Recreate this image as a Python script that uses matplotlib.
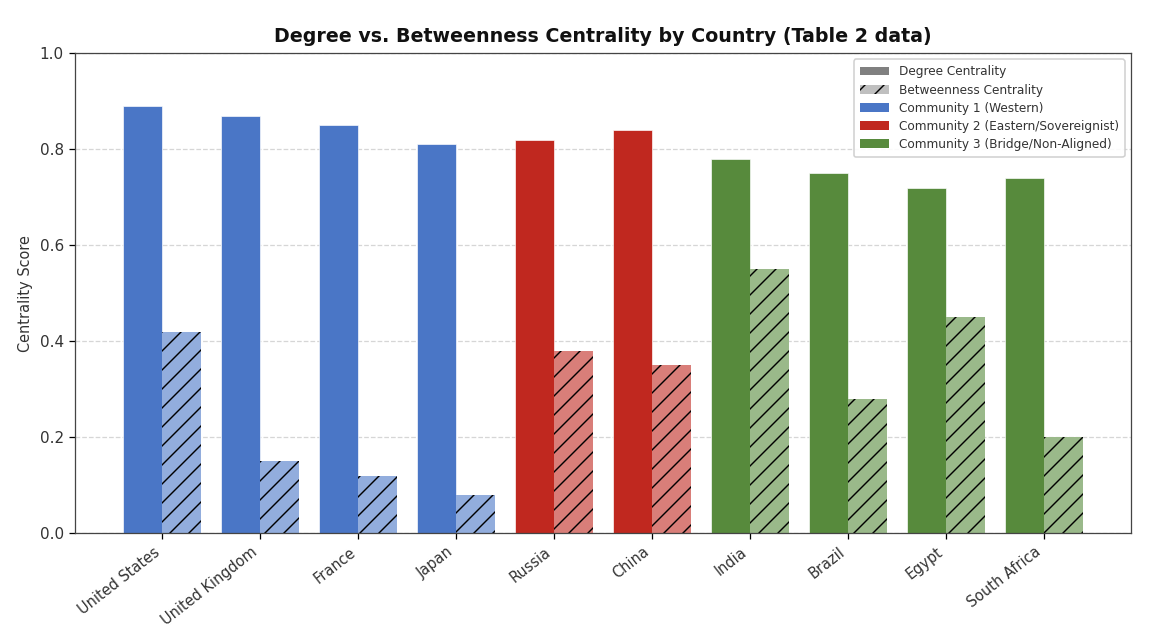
import matplotlib
matplotlib.use("Agg")
import matplotlib.pyplot as plt
from matplotlib.patches import Patch
from matplotlib.colors import to_rgb
import numpy as np

countries = ["United States", "United Kingdom", "France", "Japan", "Russia",
             "China", "India", "Brazil", "Egypt", "South Africa"]
degree = [0.89, 0.87, 0.85, 0.81, 0.82, 0.84, 0.78, 0.75, 0.72, 0.74]
betweenness = [0.42, 0.15, 0.12, 0.08, 0.38, 0.35, 0.55, 0.28, 0.45, 0.20]
community = [1, 1, 1, 1, 2, 2, 3, 3, 3, 3]
community_colors = {1: "#4A76C6", 2: "#C0281F", 3: "#578A3C"}
community_names = {1: "Community 1 (Western)",
                   2: "Community 2 (Eastern/Sovereignist)",
                   3: "Community 3 (Bridge/Non-Aligned)"}


def lighten(c, a=0.6):
    r = np.array(to_rgb(c))
    return tuple(a * r + (1 - a))


DPI = 114
plt.rcParams["hatch.linewidth"] = 0.9
fig = plt.figure(figsize=(1172 / DPI, 634 / DPI), dpi=DPI)
ax = fig.add_axes([0.064, 0.159, 0.901, 0.757])

x = np.arange(len(countries))
w = 0.4
cols = [community_colors[c] for c in community]
light = [lighten(c) for c in cols]
ax.bar(x - w / 2, degree, w, color=cols, edgecolor="white", linewidth=0.4, zorder=2)
ax.bar(x + w / 2, betweenness, w, color=light, hatch="//",
       edgecolor="black", linewidth=0, zorder=2)

ax.set_ylim(0, 1.0)
ax.set_xticks(x)
ax.set_xticklabels(countries, rotation=38, ha="right", fontsize=9.2, color="#333333")
ax.tick_params(axis="y", labelsize=9.6, labelcolor="#333333")
ax.set_ylabel("Centrality Score", fontsize=9.2, color="#333333")
ax.set_title("Degree vs. Betweenness Centrality by Country (Table 2 data)",
             fontsize=12, fontweight="bold", color="#111111", pad=7)
ax.yaxis.grid(True, linestyle="--", color="#cccccc", alpha=0.8, zorder=0)
ax.set_axisbelow(True)
for s in ax.spines.values():
    s.set_color("#444444")

handles = [Patch(facecolor="gray", label="Degree Centrality"),
           Patch(facecolor="#bfbfbf", hatch="//", edgecolor="black",
                 linewidth=0, label="Betweenness Centrality")]
for k in (1, 2, 3):
    handles.append(Patch(facecolor=community_colors[k], label=community_names[k]))
ax.legend(handles=handles, loc="upper right", fontsize=7.7, framealpha=0.9,
          labelcolor="#333333", labelspacing=0.42, borderpad=0.5,
          handlelength=2.4)

fig.savefig("out.png", dpi=DPI)
